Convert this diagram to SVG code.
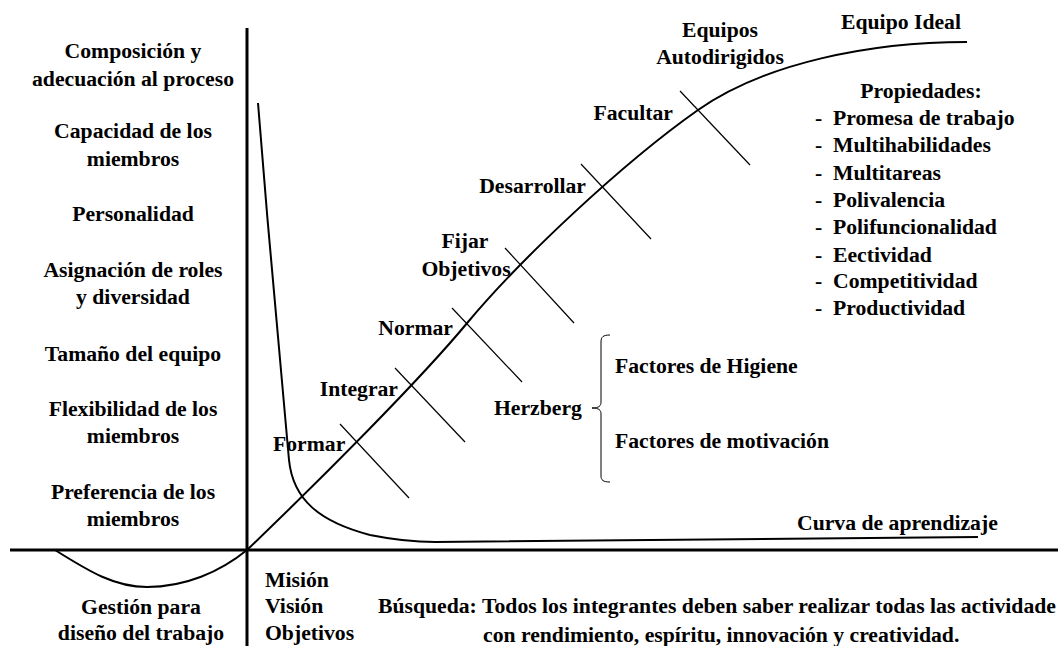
<svg xmlns="http://www.w3.org/2000/svg" width="1058" height="646" viewBox="0 0 1058 646">
<style>
text{font-family:'Liberation Serif','Times New Roman',serif;font-weight:bold;font-size:21.7px;fill:#000}
.c{text-anchor:middle}
.e{text-anchor:end}
.axis{stroke:#000;stroke-width:3;fill:none}
.curve{stroke:#000;stroke-width:2;fill:none}
.tick{stroke:#000;stroke-width:1.2;fill:none}
.thin{stroke:#000;stroke-width:1;fill:none}
</style>
<rect width="1058" height="646" fill="#fff"/>
<g id="connectors">
<line class="axis" x1="247" y1="28" x2="247" y2="646"/>
<line class="axis" x1="10" y1="550" x2="1058" y2="550"/>
<path class="curve" d="M55,550 C90,572 115,587 147,587 C185,587 220,572 247,550 C320,480 420,380 468,322 C520,260 620,165 698,110 C765,63 870,42 967,42"/>
<path class="curve" d="M258,103 C268,230 283,400 289,460 C293,500 320,522 370,535 C395,540 415,542 435,542 L978,537"/>
<line class="tick" x1="340" y1="424" x2="409" y2="498"/>
<line class="tick" x1="395" y1="368" x2="465" y2="442"/>
<line class="tick" x1="452" y1="308" x2="522" y2="382"/>
<line class="tick" x1="505" y1="248" x2="574" y2="323"/>
<line class="tick" x1="581" y1="164" x2="651" y2="239"/>
<line class="tick" x1="680" y1="91" x2="750" y2="165"/>
<path class="thin" d="M610,335 C603,335 601,337 601,342 L601,402 C601,406 599,408 592,408 C599,408 601,410 601,414 L601,476 C601,480 603,482 610,482"/>
</g>
<g id="left-factors">
<text class="c" x="133" y="58">Composición y</text>
<text class="c" x="133" y="86">adecuación al proceso</text>
<text class="c" x="133" y="138">Capacidad de los</text>
<text class="c" x="133" y="166">miembros</text>
<text class="c" x="133" y="221">Personalidad</text>
<text class="c" x="133" y="277">Asignación de roles</text>
<text class="c" x="133" y="304">y diversidad</text>
<text class="c" x="133" y="361">Tamaño del equipo</text>
<text class="c" x="133" y="416">Flexibilidad de los</text>
<text class="c" x="133" y="443">miembros</text>
<text class="c" x="133" y="499">Preferencia de los</text>
<text class="c" x="133" y="526">miembros</text>
</g>
<g id="gestion">
<text class="c" x="141" y="614">Gestión para</text>
<text class="c" x="141" y="640">diseño del trabajo</text>
</g>
<g id="mision">
<text x="265" y="587">Misión</text>
<text x="265" y="613">Visión</text>
<text x="265" y="640">Objetivos</text>
</g>
<g id="busqueda">
<text x="378" y="613">Búsqueda:</text>
<text x="482" y="613">Todos los integrantes deben saber realizar todas las actividade</text>
<text x="483" y="642">con rendimiento, espíritu, innovación y creatividad.</text>
</g>
<g id="stages">
<text x="273" y="451">Formar</text>
<text class="e" x="398" y="396">Integrar</text>
<text class="e" x="453" y="335">Normar</text>
<text class="c" x="465" y="248">Fijar</text>
<text class="c" x="466" y="276">Objetivos</text>
<text class="e" x="586" y="193">Desarrollar</text>
<text class="e" x="673" y="120">Facultar</text>
<text class="c" x="720" y="37">Equipos</text>
<text class="c" x="720" y="64">Autodirigidos</text>
<text class="c" x="901" y="29">Equipo Ideal</text>
</g>
<g id="propiedades">
<text class="c" x="921" y="98">Propiedades:</text>
<text x="815" y="125">-</text><text x="833" y="125">Promesa de trabajo</text>
<text x="815" y="152">-</text><text x="833" y="152">Multihabilidades</text>
<text x="815" y="180">-</text><text x="833" y="180">Multitareas</text>
<text x="815" y="207">-</text><text x="833" y="207">Polivalencia</text>
<text x="815" y="234">-</text><text x="833" y="234">Polifuncionalidad</text>
<text x="815" y="262">-</text><text x="833" y="262">Eectividad</text>
<text x="815" y="288">-</text><text x="833" y="288">Competitividad</text>
<text x="815" y="315">-</text><text x="833" y="315">Productividad</text>
</g>
<g id="herzberg">
<text x="494" y="415">Herzberg</text>
<text x="615" y="373">Factores de Higiene</text>
<text x="615" y="448">Factores de motivación</text>
</g>
<g id="curva-label">
<text x="797" y="530">Curva de aprendizaje</text>
</g>
</svg>
